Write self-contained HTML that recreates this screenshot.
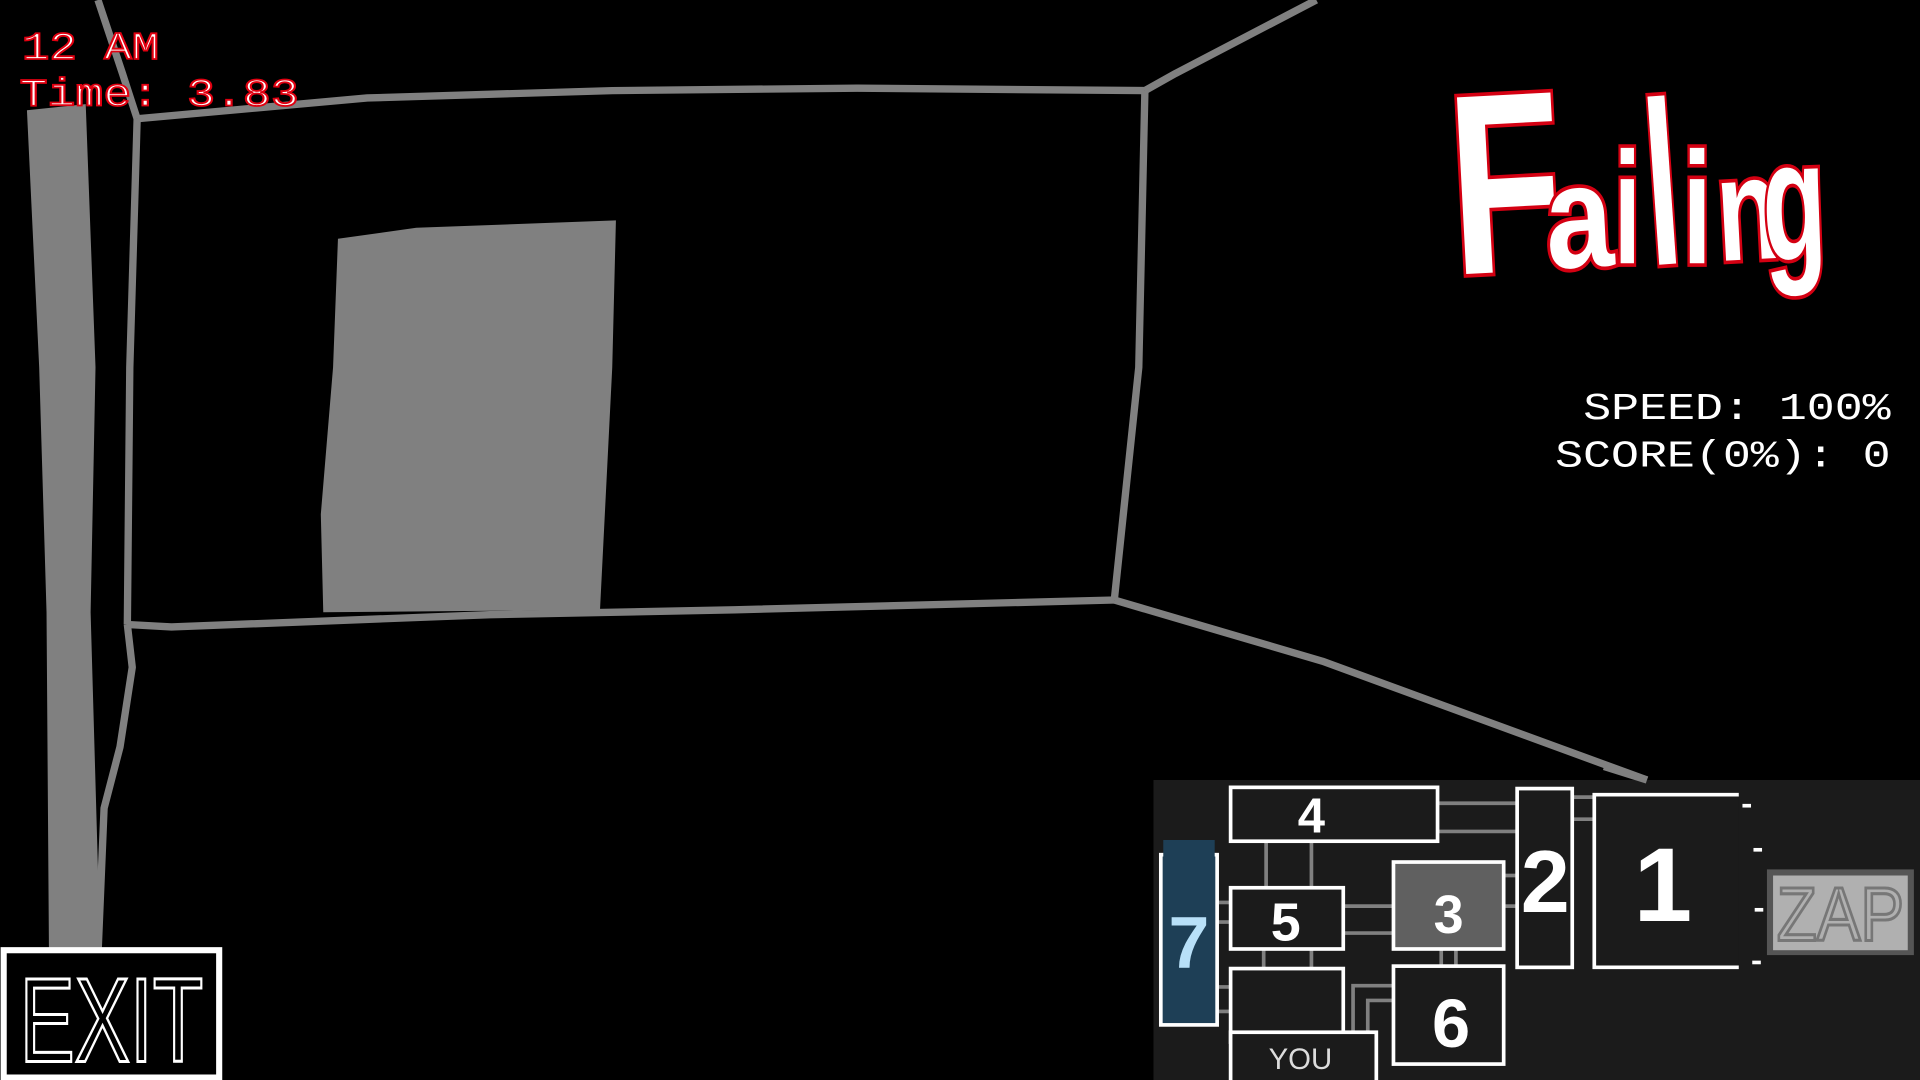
<!DOCTYPE html>
<html><head><meta charset="utf-8"><style>
html,body{margin:0;padding:0;background:#000;overflow:hidden}
svg{display:block}
</style></head><body>
<svg width="1920" height="1080" viewBox="0 0 1568 882" xmlns="http://www.w3.org/2000/svg" preserveAspectRatio="none">
<rect width="1568" height="882" fill="#000"/>
<g fill="none" stroke="#808080" stroke-width="6" stroke-linejoin="round">
<polyline points="112,97 300,80 500,74 700,72 935,74"/>
<polyline points="935,74 960,60 1075,0"/>
<polyline points="112,97 106,300 104,510"/>
<polyline points="935,74 930,300 910,490"/>
<polyline points="104,510 140,512 400,502 600,498 910,490"/>
<polyline points="910,490 1080,540 1345,637"/>
<polyline points="104,510 108,545 98,610 85,660 80,780"/>
<polyline points="80,0 100,60 112,97"/>
</g>
<path d="M22,90 L70,85 L78,300 L74,500 L82,780 L40,780 L38,500 L32,300 Z" fill="#808080"/>
<path d="M276,195 L340,186 L503,180 L500,300 L490,498 L264,500 L262,420 L272,300 Z" fill="#808080"/>
<text x="18" y="48" font-family="Liberation Mono, monospace" font-size="32" fill="#fff" stroke="#e00010" stroke-width="1.5" textLength="112" lengthAdjust="spacingAndGlyphs">12 AM</text>
<text x="16" y="86" font-family="Liberation Mono, monospace" font-size="32" fill="#fff" stroke="#e00010" stroke-width="1.5" textLength="228" lengthAdjust="spacingAndGlyphs">Time: 3.83</text>
<g font-family="Liberation Sans Narrow, Liberation Sans, sans-serif" font-weight="bold" fill="#fff" stroke="#d40012" stroke-width="6" paint-order="stroke">
<text x="1183" y="222" font-size="210" transform="rotate(-3 1230 140)" textLength="92" lengthAdjust="spacingAndGlyphs">F</text>
<text x="1262" y="218" font-size="120" transform="rotate(-3 1290 180)" textLength="55" lengthAdjust="spacingAndGlyphs">a</text>
<text x="1318" y="215" font-size="130" textLength="22" lengthAdjust="spacingAndGlyphs">i</text>
<text x="1342" y="216" font-size="190" transform="rotate(-4 1355 130)" textLength="28" lengthAdjust="spacingAndGlyphs">l</text>
<text x="1374" y="215" font-size="130" textLength="24" lengthAdjust="spacingAndGlyphs">i</text>
<text x="1402" y="212" font-size="120" transform="rotate(-3 1425 180)" textLength="52" lengthAdjust="spacingAndGlyphs">n</text>
<text x="1440" y="212" font-size="140" transform="rotate(-2 1470 190)" textLength="52" lengthAdjust="spacingAndGlyphs">g</text>
</g>
<g font-family="Liberation Mono, monospace" font-size="31" fill="#fff">
<text x="1293" y="342" textLength="251" lengthAdjust="spacingAndGlyphs">SPEED: 100%</text>
<text x="1270" y="381" textLength="274" lengthAdjust="spacingAndGlyphs">SCORE(0%): 0</text>
</g>
<rect x="3" y="776" width="176" height="104" fill="#000" stroke="#fff" stroke-width="5"/>
<text x="91" y="867" font-family="Liberation Sans, sans-serif" font-size="98" fill="#000" stroke="#fff" stroke-width="2.5" text-anchor="middle" textLength="150" lengthAdjust="spacingAndGlyphs">EXIT</text>
<!-- minimap -->
<rect x="942" y="637" width="626" height="245" fill="#1b1b1b"/>
<polyline points="1310,626 1345,637" stroke="#808080" stroke-width="6"/>
<g stroke="#808080" stroke-width="3" fill="none">
<line x1="1175" y1="656" x2="1238" y2="656"/><line x1="1175" y1="679" x2="1238" y2="679"/>
<line x1="1285" y1="651" x2="1301" y2="651"/><line x1="1285" y1="669" x2="1301" y2="669"/>
<line x1="1034" y1="688" x2="1034" y2="724"/><line x1="1071" y1="688" x2="1071" y2="724"/>
<line x1="1098" y1="740" x2="1137" y2="740"/><line x1="1098" y1="762" x2="1137" y2="762"/>
<line x1="1229" y1="715" x2="1238" y2="715"/><line x1="1229" y1="740" x2="1238" y2="740"/>
<line x1="995" y1="737" x2="1004" y2="737"/><line x1="995" y1="753" x2="1004" y2="753"/>
<line x1="995" y1="806" x2="1004" y2="806"/><line x1="995" y1="826" x2="1004" y2="826"/>
<line x1="1032" y1="776" x2="1032" y2="790"/><line x1="1071" y1="776" x2="1071" y2="790"/>
<line x1="1177" y1="776" x2="1177" y2="788"/><line x1="1189" y1="776" x2="1189" y2="788"/>
<polyline points="1105,842 1105,805 1137,805"/><polyline points="1117,842 1117,817 1137,817"/>
</g>
<g stroke="#fff" stroke-width="3">
<rect x="1005" y="643" width="169" height="44" fill="#1b1b1b"/>
<rect x="1239" y="644" width="45" height="146" fill="#1b1b1b"/>
<polyline points="1420,649 1302,649 1302,790 1420,790" fill="#1b1b1b"/>
<rect x="948" y="698" width="46" height="139" fill="#1e3f56"/>
<rect x="1005" y="725" width="92" height="50" fill="#1b1b1b"/>
<rect x="1138" y="704" width="90" height="71" fill="#606060"/>
<rect x="1138" y="789" width="90" height="80" fill="#1b1b1b"/>
<rect x="1005" y="791" width="92" height="60" fill="#1b1b1b"/>
<rect x="1005" y="843" width="119" height="42" fill="#1b1b1b"/>
<line x1="1423" y1="658" x2="1430" y2="658"/><line x1="1432" y1="694" x2="1439" y2="694"/>
<line x1="1433" y1="743" x2="1440" y2="743"/><line x1="1431" y1="786" x2="1438" y2="786"/>
</g>
<rect x="950" y="686" width="42" height="14" fill="#1e3f56"/>
<g font-family="Liberation Sans, sans-serif" font-weight="bold" fill="#fff" text-anchor="middle">
<text x="1071" y="680" font-size="40">4</text>
<text x="1050" y="768" font-size="44">5</text>
<text x="1183" y="762" font-size="44">3</text>
<text x="1185" y="855" font-size="56">6</text>
<text x="1262" y="745" font-size="72">2</text>
<text x="1358" y="752" font-size="86">1</text>
<text x="971" y="790" font-size="60" fill="#b8e0f8">7</text>
</g>
<text x="1062" y="873" font-family="Liberation Sans, sans-serif" font-size="24" fill="#ddd" text-anchor="middle">YOU</text>
<rect x="1443" y="710" width="120" height="70" fill="#555"/>
<rect x="1448" y="715" width="110" height="61" fill="#b0b0b0"/>
<text x="1503" y="768" font-family="Liberation Sans, sans-serif" font-size="62" fill="#b0b0b0" stroke="#777" stroke-width="2.5" text-anchor="middle" textLength="104" lengthAdjust="spacingAndGlyphs">ZAP</text>
</svg>
</body></html>
